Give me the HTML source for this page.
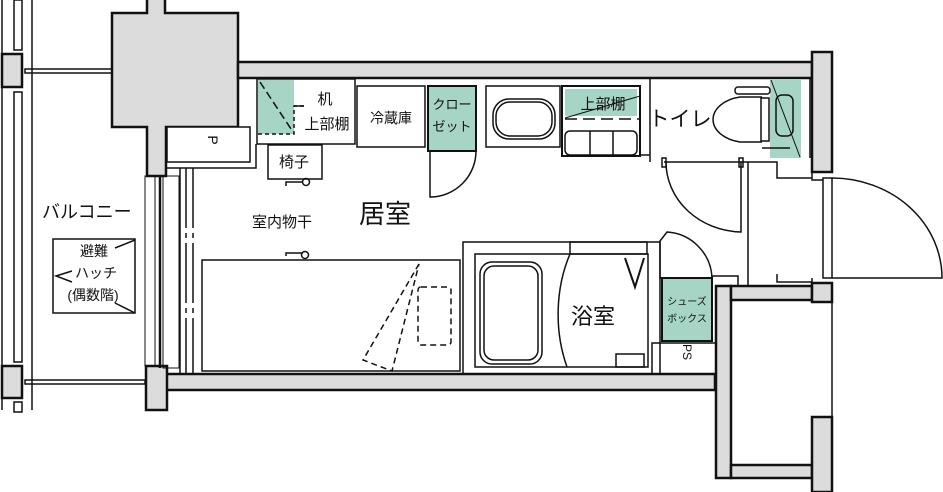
<!DOCTYPE html>
<html><head><meta charset="utf-8"><style>
html,body{margin:0;padding:0;background:#fff;}
svg{display:block;}
text{font-family:"Liberation Sans","Noto Sans CJK JP",sans-serif;fill:#111;}
</style></head><body>
<svg width="943" height="492" viewBox="0 0 943 492" xmlns="http://www.w3.org/2000/svg">
<g stroke="#111" stroke-width="1.5" fill="none">
<line x1="2" y1="0" x2="2" y2="410"/>
<line x1="32" y1="0" x2="32" y2="410"/>
<rect x="14" y="0" width="8" height="50"/>
<rect x="14" y="92" width="8" height="270"/>
<rect x="14" y="402" width="8" height="10"/>
<rect x="2" y="54" width="20" height="33" fill="#dcdcdc" stroke-width="2.5"/>
<rect x="2" y="366" width="20" height="32" fill="#dcdcdc" stroke-width="2.5"/>
<rect x="25" y="69" width="87" height="4"/>
<rect x="25" y="380" width="120" height="4"/>
<path d="M147 0 V13 H112 V127 H147 V176 H166 V127 H238 V13 H165 V0" fill="#dcdcdc" stroke-width="2.5"/>
<rect x="238" y="62" width="574" height="16" fill="#dcdcdc" stroke-width="2.5"/>
<rect x="812" y="52" width="20" height="120" fill="#dcdcdc" stroke-width="2.5"/>
<rect x="166" y="374" width="549" height="16" fill="#dcdcdc" stroke-width="2.5"/>
<rect x="146" y="366" width="21" height="44" fill="#dcdcdc" stroke-width="2.5"/>
<rect x="716" y="286" width="15" height="192" fill="#dcdcdc" stroke-width="2.5"/>
<rect x="731" y="286" width="81" height="14" fill="#dcdcdc" stroke-width="2.5"/>
<rect x="812" y="283" width="20" height="19" fill="#dcdcdc" stroke-width="2.5"/>
<rect x="731" y="465" width="81" height="13" fill="#dcdcdc" stroke-width="2.5"/>
<rect x="812" y="417" width="20" height="75" fill="#dcdcdc" stroke-width="2.5"/>
<line x1="832" y1="300" x2="832" y2="417"/>
<rect x="823" y="178" width="9" height="100"/>
<path d="M832 178 A110 100 0 0 1 942 278 H832"/>
<path d="M812 172 V180 H823 M812 278 V286"/>
<rect x="145" y="176" width="10" height="190" stroke-width="1"/>
<line x1="160" y1="176" x2="160" y2="368" stroke-width="2.5"/>
<rect x="163" y="176" width="16" height="192" stroke-width="1"/>
<line x1="180" y1="168" x2="180" y2="374"/>
<line x1="186" y1="168" x2="186" y2="374" stroke-dasharray="60 5 5 5"/>
<line x1="193" y1="168" x2="193" y2="374" stroke-dasharray="60 5 5 5"/>
<path d="M166 168 H256 V144"/>
<rect x="167" y="127" width="83" height="35" fill="#fff"/>
<rect x="257" y="79" width="98" height="65"/>
<rect x="258" y="80" width="36" height="54" fill="#a6d5c5" stroke="none"/>
<path d="M258 134 H294 V106 H304" stroke-dasharray="4 3"/>
<line x1="260" y1="82" x2="293" y2="132" stroke-dasharray="8 4"/>
<line x1="294" y1="106" x2="304" y2="106"/>
<rect x="357" y="86" width="68" height="61"/>
<rect x="428" y="86" width="48" height="65" fill="#a6d5c5" stroke-width="2"/>
<path d="M430 151 V197 A46 46 0 0 0 476 151"/>
<rect x="268" y="145" width="54" height="34"/>
<path d="M286 186 V182 H303"/><circle cx="306" cy="182" r="3.5"/>
<rect x="486" y="86" width="74" height="61"/>
<rect x="493" y="99" width="62" height="40" rx="16"/>
<rect x="496" y="102" width="56" height="34" rx="14"/>
<rect x="562" y="86" width="78" height="70" stroke-width="2"/>
<rect x="565" y="89" width="72" height="27" fill="#a6d5c5" stroke="none"/>
<line x1="565" y1="118" x2="640" y2="96" stroke-width="1"/>
<line x1="565" y1="119" x2="640" y2="119" stroke-dasharray="12 6"/>
<rect x="565" y="131" width="72" height="24" rx="5"/>
<line x1="590" y1="131" x2="590" y2="155"/><line x1="613" y1="131" x2="613" y2="155"/>
<path d="M640 86 V155 H650 V78 M650 155 V162 M810 78 V158"/>
<rect x="770" y="79" width="31" height="79" fill="#a6d5c5" stroke="none"/>
<rect x="735" y="87" width="35" height="7" rx="3"/>
<path d="M762 97 H740 A34 23 0 0 0 740 142 H762"/>
<rect x="761" y="98" width="8" height="43"/>
<rect x="776" y="95" width="17" height="41" rx="6"/>
<line x1="771" y1="80" x2="800" y2="157" stroke-width="1"/>
<line x1="762" y1="148" x2="790" y2="148"/>
<path d="M664 162 H741 V232 A77 70 0 0 1 666 162" />
<rect x="662" y="158" width="4" height="9"/><rect x="739" y="158" width="4" height="9"/>
<path d="M741 162 H777 V178 H812 M748 162 V286"/>
<path d="M777 274 V282 H812"/>
<rect x="202" y="260" width="258" height="111"/>
<path d="M286 256 V253 H303"/><circle cx="305" cy="255" r="3.5"/>
<path d="M419 264 L363 360 L392 371 Z" stroke-dasharray="6 4" fill="none"/>
<rect x="418" y="287" width="33" height="58" rx="3" stroke-dasharray="6 4"/>
<rect x="463" y="242" width="197" height="132"/>
<rect x="475" y="254" width="173" height="113"/>
<rect x="570" y="242" width="77" height="12"/>
<rect x="480" y="262" width="62" height="102" rx="12"/>
<rect x="484" y="266" width="54" height="94" rx="10"/>
<path d="M570 254 A80 115 0 0 0 567 367"/>
<path d="M625 258 L635 287 L644 258" stroke-width="2"/>
<rect x="616" y="354" width="28" height="13"/>
<path d="M660 241 V278 H712 A48 48 0 0 0 667 232 Z" fill="none"/>
<path d="M712 278 V276 H738 V286"/>
<rect x="662" y="278" width="50" height="63" fill="#a6d5c5" stroke-width="2"/>
<rect x="652" y="343" width="64" height="31"/>
<rect x="53" y="239" width="82" height="74"/>
<line x1="115" y1="248" x2="135" y2="240"/>
<line x1="115" y1="303" x2="135" y2="313"/>
<path d="M72 271 L56 276 L72 282"/>
</g>
<text x="42" y="218" font-size="18">バルコニー</text>
<text x="94" y="256" font-size="14" text-anchor="middle">避難</text>
<text x="96" y="278" font-size="14" text-anchor="middle">ハッチ</text>
<text x="93" y="300" font-size="14" text-anchor="middle">(偶数階)</text>
<text x="208" y="140" font-size="14" transform="rotate(90 208 140)" text-anchor="middle">P</text>
<text x="325" y="104" font-size="15" text-anchor="middle">机</text>
<text x="327" y="129" font-size="15" text-anchor="middle">上部棚</text>
<text x="391" y="123" font-size="14" text-anchor="middle">冷蔵庫</text>
<text x="452" y="109" font-size="13" text-anchor="middle">クロー</text>
<text x="452" y="131" font-size="13" text-anchor="middle">ゼット</text>
<text x="294" y="167" font-size="15" text-anchor="middle">椅子</text>
<text x="385" y="223" font-size="26" text-anchor="middle">居室</text>
<text x="282" y="227" font-size="15" text-anchor="middle">室内物干</text>
<text x="603" y="109" font-size="15" text-anchor="middle">上部棚</text>
<text x="680" y="126" font-size="21" text-anchor="middle">トイレ</text>
<text x="593" y="324" font-size="22" text-anchor="middle">浴室</text>
<text x="687" y="305" font-size="10" text-anchor="middle">シューズ</text>
<text x="687" y="322" font-size="10" text-anchor="middle">ボックス</text>
<text x="676" y="359" font-size="12" transform="rotate(90 683 359)" text-anchor="middle">PS</text>
</svg>
</body></html>
